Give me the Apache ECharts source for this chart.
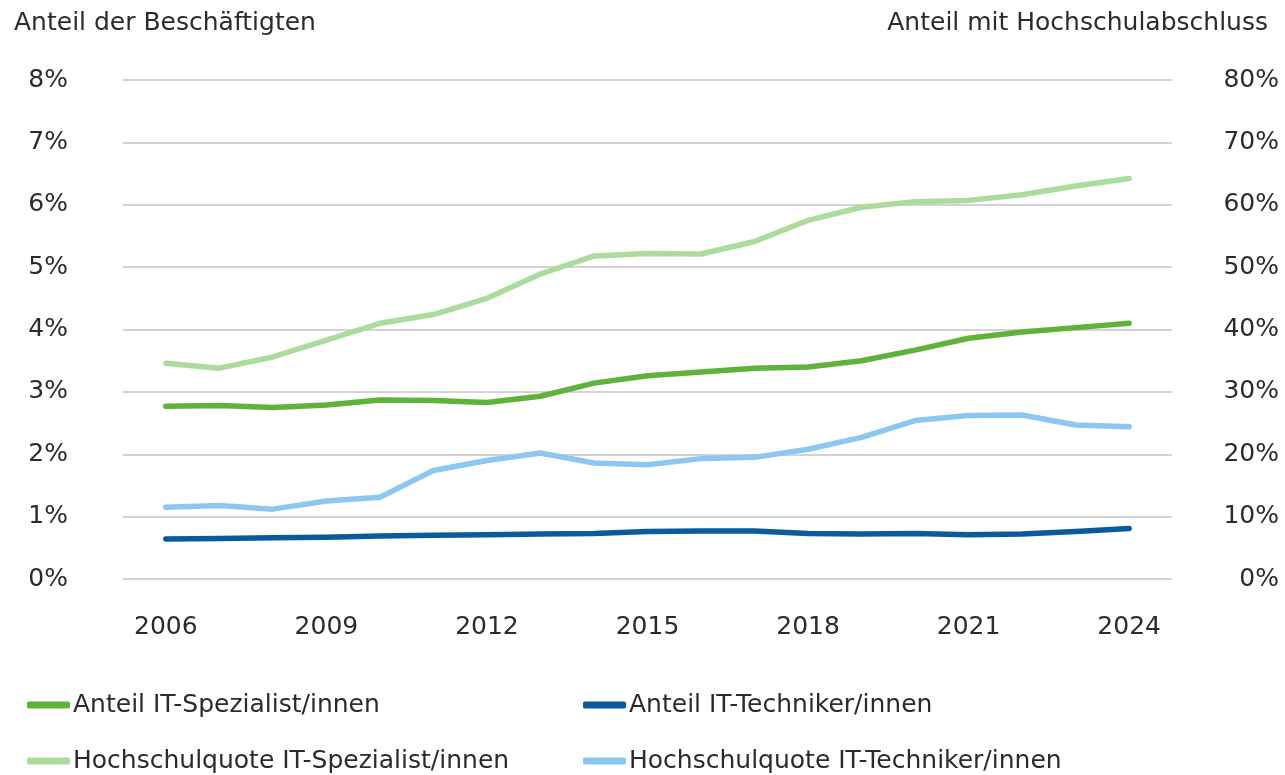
<!DOCTYPE html>
<html>
<head>
<meta charset="utf-8">
<script src="https://cdn.jsdelivr.net/npm/echarts@6/dist/echarts.min.js"></script>
<style>
  html, body { margin: 0; padding: 0; background: #fff; }
  #chart { width: 1285px; height: 775px; }
</style>
</head>
<body>
<div id="chart"></div>
<script>
// Jahre und Werte
const years = [2006, 2007, 2008, 2009, 2010, 2011, 2012, 2013, 2014, 2015,
  2016, 2017, 2018, 2019, 2020, 2021, 2022, 2023, 2024];
const xTickYears = [2006, 2009, 2012, 2015, 2018, 2021, 2024];

// linke Achse: Anteil der Beschäftigten (%)
const anteilSpezialist = [2.77, 2.78, 2.75, 2.79, 2.87, 2.86, 2.83, 2.93, 3.14, 3.26,
  3.32, 3.38, 3.40, 3.50, 3.67, 3.86, 3.96, 4.03, 4.10];
const anteilTechniker = [0.64, 0.65, 0.66, 0.67, 0.69, 0.70, 0.71, 0.72, 0.73, 0.76,
  0.77, 0.77, 0.73, 0.72, 0.73, 0.71, 0.72, 0.76, 0.81];

// rechte Achse: Anteil mit Hochschulabschluss (%)
const quoteSpezialist = [34.6, 33.8, 35.6, 38.3, 41.0, 42.4, 45.0, 48.9, 51.8, 52.2,
  52.1, 54.1, 57.5, 59.6, 60.5, 60.7, 61.6, 63.0, 64.2];
const quoteTechniker = [11.5, 11.8, 11.2, 12.5, 13.1, 17.4, 19.0, 20.2, 18.6, 18.3,
  19.3, 19.5, 20.8, 22.7, 25.4, 26.2, 26.3, 24.7, 24.4];

const leftTicks = [0, 1, 2, 3, 4, 5, 6, 7, 8];
const rightTicks = [0, 10, 20, 30, 40, 50, 60, 70, 80];

const names = {
  aS: 'Anteil IT-Spezialist/innen',
  aT: 'Anteil IT-Techniker/innen',
  qS: 'Hochschulquote IT-Spezialist/innen',
  qT: 'Hochschulquote IT-Techniker/innen',
};

const colors = {
  aS: '#5fb23a',
  aT: '#0b5a9e',
  qS: '#abdc9c',
  qT: '#8cc7ef',
};

const font = 'DejaVu Sans';
const fontSize = 25;
const textColor = '#2b2b2b';

const pairs = (vals) => years.map((y, i) => [y, vals[i]]);

const lineSeries = (key, vals, yIdx) => ({
  name: names[key],
  type: 'line',
  yAxisIndex: yIdx,
  data: pairs(vals),
  symbol: 'none',
  lineStyle: { width: 5.5, color: colors[key], cap: 'round', join: 'round' },
  itemStyle: { color: colors[key] },
  z: key === 'aT' ? 4 : 3,
});

// ein Legendeneintrag je Komponente, damit die Position fest bleibt
const legendItem = (key, left, top) => ({
  left: left,
  top: top,
  data: [names[key]],
  itemWidth: 43,
  itemHeight: 7,
  itemGap: 0,
  icon: 'roundRect',
  selectedMode: false,
  textStyle: { fontFamily: font, fontSize: fontSize, color: textColor, lineHeight: 30, padding: [0, 0, 0, -2] },
});

const chart = echarts.init(document.getElementById('chart'));

chart.setOption({
  animation: false,
  title: [
    {
      text: 'Anteil der Beschäftigten',
      left: 9, top: 6,
      textStyle: { fontFamily: font, fontSize: fontSize, fontWeight: 'normal', color: textColor },
    },
    {
      text: 'Anteil mit Hochschulabschluss',
      right: 12, top: 6,
      textStyle: { fontFamily: font, fontSize: fontSize, fontWeight: 'normal', color: textColor },
    },
  ],
  legend: [
    legendItem('aS', 22, 685),
    legendItem('qS', 22, 741),
    legendItem('aT', 578, 685),
    legendItem('qT', 578, 741),
  ],
  grid: { left: 123, right: 113, top: 80, bottom: 196 },
  xAxis: {
    type: 'value',
    min: 2005.2,
    max: 2024.8,
    axisLine: { show: false },
    axisTick: { show: false },
    splitLine: { show: false },
    axisLabel: {
      customValues: xTickYears,
      margin: 36,
      fontFamily: font, fontSize: fontSize, color: textColor,
      formatter: (v) => String(v),
    },
  },
  yAxis: [
    {
      type: 'value',
      position: 'left',
      min: leftTicks[0],
      max: leftTicks[leftTicks.length - 1],
      interval: 1,
      axisLine: { show: false },
      axisTick: { show: false },
      splitLine: { lineStyle: { color: '#c4c4c4', width: 1.6 } },
      axisLabel: {
        margin: 55,
        fontFamily: font, fontSize: fontSize, color: textColor,
        formatter: (v) => v + '%',
      },
    },
    {
      type: 'value',
      position: 'right',
      min: rightTicks[0],
      max: rightTicks[rightTicks.length - 1],
      interval: 10,
      axisLine: { show: false },
      axisTick: { show: false },
      splitLine: { show: false },
      axisLabel: {
        margin: 107,
        align: 'right',
        fontFamily: font, fontSize: fontSize, color: textColor,
        formatter: (v) => v + '%',
      },
    },
  ],
  series: [
    lineSeries('qS', quoteSpezialist, 1),
    lineSeries('aS', anteilSpezialist, 0),
    lineSeries('qT', quoteTechniker, 1),
    lineSeries('aT', anteilTechniker, 0),
  ],
});
</script>
</body>
</html>
